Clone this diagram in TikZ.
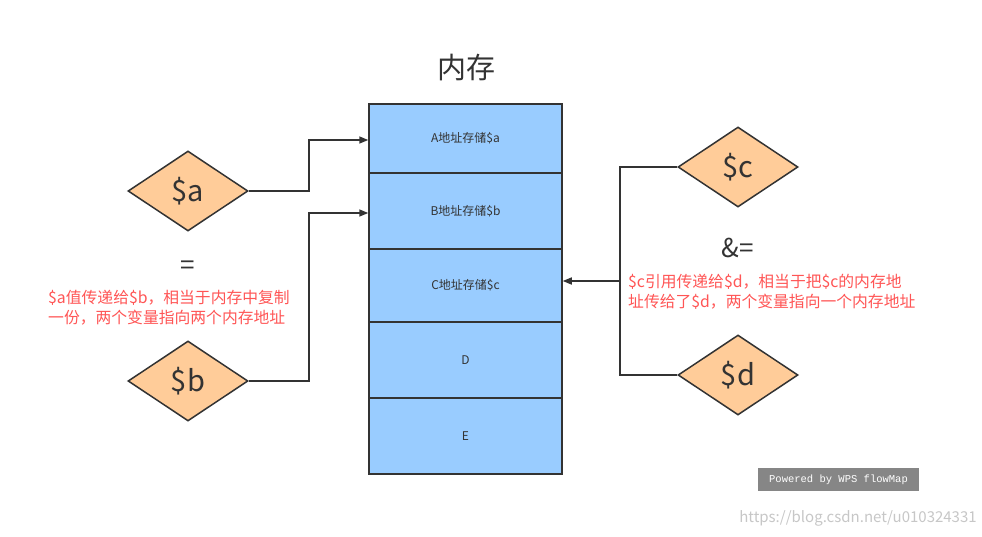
\documentclass[tikz,border=0pt]{standalone}
\usepackage{fontspec}
\setmainfont{Noto Sans CJK SC}
\newfontfamily\monof{Liberation Mono}
\usetikzlibrary{shapes.geometric,arrows.meta}
\definecolor{boxblue}{HTML}{99CCFF}
\definecolor{dia}{HTML}{FFCC99}
\definecolor{ink}{HTML}{333333}
\definecolor{redt}{HTML}{FF5555}
\begin{document}
\begin{tikzpicture}[x=1pt,y=-1pt,
  cell/.style={draw=ink,line width=1.5pt,fill=boxblue,minimum width=193pt,inner sep=0pt,font=\fontsize{12}{13}\selectfont,text=ink},
  var/.style={diamond,draw=ink,line width=1.5pt,fill=dia,minimum width=120pt,minimum height=80pt,aspect=1.5,inner sep=0pt,font=\fontsize{29}{30}\selectfont,text=ink},
  conn/.style={draw=ink,line width=1.5pt},
  note/.style={text=redt,font=\fontsize{15.8}{20}\selectfont,align=left,anchor=west,inner sep=0pt}]
\useasboundingbox (0,0) rectangle (982,536);
\fill[white] (0,0) rectangle (982,536);
\node[cell,minimum height=69pt] (A) at (465.5,138.5) {A地址存储\$a};
\node[cell,minimum height=76pt] (B) at (465.5,211) {B地址存储\$b};
\node[cell,minimum height=73pt] (C) at (465.5,285.5) {C地址存储\$c};
\node[cell,minimum height=76pt] (D) at (465.5,360) {D};
\node[cell,minimum height=76pt] (E) at (465.5,436) {E};
\node[font=\fontsize{29}{30}\selectfont,text=ink] (t) at (466,68) {内存};
\node[font=\fontsize{26}{28}\selectfont,text=ink] (eq) at (188,268) {=};
\node[font=\fontsize{26}{28}\selectfont,text=ink] (req) at (738,248) {\&=};
\node[var] (a) at (188,191) {\$a};
\node[var] (b) at (188,381) {\$b};
\node[var] (c) at (738,167) {\$c};
\node[var] (d) at (738,375) {\$d};
\node[note] (n1) at (48,308) {\$a值传递给\$b，相当于内存中复制\\一份，两个变量指向两个内存地址};
\node[note] (n2) at (628,292) {\$c引用传递给\$d，相当于把\$c的内存地\\址传给了\$d，两个变量指向一个内存地址};
\coordinate (j) at (620,281);
\draw[conn,-{Triangle[length=9pt,width=7pt]}] (a.east) -| (309,140) -- (A.west |- 0,140);
\draw[conn,-{Triangle[length=9pt,width=7pt]}] (b.east) -| (309,213) -- (B.west |- 0,213);
\draw[conn] (c.west) -| (j);
\draw[conn] (d.west) -| (j);
\draw[conn,-{Triangle[length=9pt,width=7pt]}] (j) -- (C.east |- j);
\node[fill=gray!95!white,minimum width=161pt,minimum height=23pt,text=white,font=\monof\fontsize{10.5}{11}\selectfont] (w) at (838.5,479.5) {Powered by WPS flowMap};
\node[text=black!22,font=\fontsize{15}{16}\selectfont] (u) at (858,518) {https://blog.csdn.net/u010324331};
\end{tikzpicture}
\end{document}
